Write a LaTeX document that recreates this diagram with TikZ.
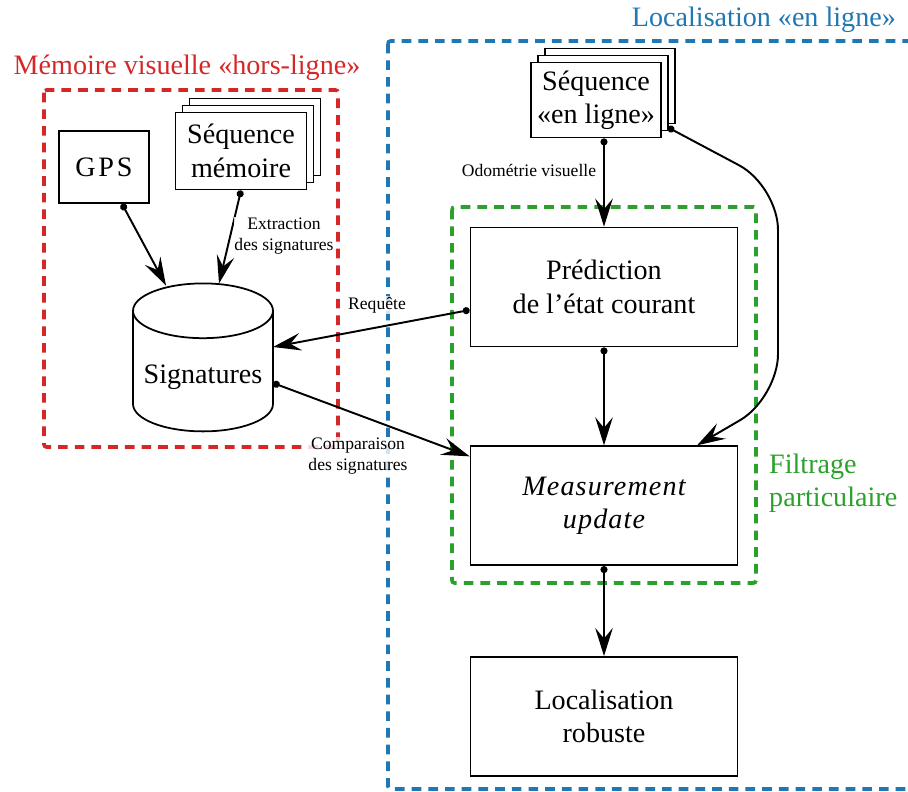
\documentclass[tikz,border=0pt]{standalone}
\usepackage{fontspec}
\setmainfont{Liberation Serif}
\usetikzlibrary{arrows.meta,positioning,calc,shapes.geometric,shadows}
\definecolor{memred}{HTML}{D62728}
\definecolor{locblue}{HTML}{1F77B4}
\definecolor{filtgreen}{HTML}{2CA02C}

\begin{document}
\begin{tikzpicture}[x=0.02cm,y=-0.02cm]
\tikzstyle{block}=[draw,line width=1pt,fill=white,minimum width=5.34cm,minimum height=2.38cm,align=center,font=\fontsize{16}{19}\selectfont]
\tikzstyle{stack}=[block,double copy shadow={shadow xshift=4pt,shadow yshift=4pt,line width=1pt}]
\tikzstyle{lbl}=[font=\fontsize{10}{12.3}\selectfont,align=center,fill=white,fill opacity=0.8,text opacity=1,inner sep=0.5pt]
\tikzstyle{title}=[font=\fontsize{16}{19}\selectfont,align=left]
\tikzstyle{group}=[dash pattern=on 5.5pt off 4pt,line width=2.1pt,rounded corners=1.5pt]
\tikzstyle{link}=[line width=1.1pt,{Circle[length=4pt]}-{Stealth[length=16pt,width=10pt,inset=6pt]}]
\useasboundingbox (0,0) rectangle (908,791);
% groupes
\draw[group,memred] (44,90) rectangle (338,447);
\draw[group,locblue] (388,41) rectangle (915,789);
\draw[group,filtgreen] (452,207) rectangle (756,583);
\node[title,text=memred] (tmem) at (187,68) {Mémoire visuelle «hors-ligne»};
\node[title,text=locblue,anchor=east] (tloc) at (902,20) {Localisation «en ligne»};
\node[title,text=filtgreen,anchor=west] (tfilt) at (763,483) {Filtrage\\particulaire};
% hors-ligne
\node[block,minimum width=1.8cm,minimum height=1.44cm,font=\fontsize{16}{19}\selectfont\addfontfeature{LetterSpace=10}] (gps) at (104,167) {GPS};
\node[stack,minimum width=2.62cm,minimum height=1.54cm] (seqM) at (241,151) {Séquence\\mémoire};
\node[block,cylinder,shape border rotate=90,aspect=0.42,minimum width=2.8cm,minimum height=2.96cm] (sig) at (203,377) {\raisebox{3pt}{Signatures}};
% en ligne
\node[stack,minimum width=2.6cm,minimum height=1.5cm] (seqL) at (596,100) {Séquence\\«en ligne»};
\node[block] (pred) at (604,287) {Prédiction\\de l’état courant};
\node[block,below=1.96cm of pred,font=\fontsize{16}{19}\selectfont\itshape\addfontfeature{LetterSpace=4}] (meas) {Measurement\\update};
\node[block,below=1.8cm of meas] (loc) {Localisation\\robuste};
% liens
\draw[link] ($(gps.south)+(18,0)$) -- ($(sig.north)+(-37,3)$);
\draw[link] (seqM.south) -- ($(sig.north)+(16,1)$);
\draw[link] ($(pred.west)+(0,23)$) -- ($(sig.center)+(70,-30)$);
\draw[link] ($(sig.center)+(70,6)$) -- ($(meas.north west)+(0,11)$);
\draw[link] (seqL.south -| pred.north) -- (pred.north);
\draw[link] (pred.south) -- (meas.north);
\draw[link] (meas.south) -- (loc.north);
\draw[link,rounded corners=25pt] ($(seqL.south east)+(6,-11)$) -- (778,186) -- (778,398) -- ($(meas.north)+(93,0)$);
\node[lbl] (lext) at (284,236) {Extraction\\des signatures};
\node[lbl] (lreq) at (377,305) {Requête};
\node[lbl] (lcomp) at (358,456) {Comparaison\\des signatures};
\node[lbl] (lodo) at (529,170) {Odométrie visuelle};
\end{tikzpicture}
\end{document}
